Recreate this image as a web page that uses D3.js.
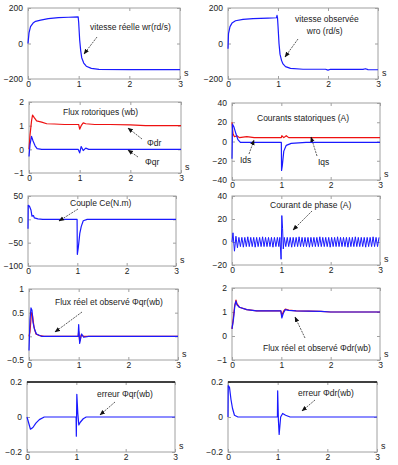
<!DOCTYPE html>
<html>
<head>
<meta charset="utf-8">
<script src="https://cdn.jsdelivr.net/npm/d3@7"></script>
<style>
body { margin: 0; background: #fff; }
text { font-family: Arial, "Liberation Sans", sans-serif; fill: #222; }
</style>
</head>
<body>
<script>
// ---- data (time in s) ----
var timeTicks = [0, 1, 2, 3];

// vitesse reelle / observee (rd/s)
var wr = [[0,0],[0.02,60],[0.05,95],[0.1,115],[0.15,125],[0.25,132],[0.4,140],[0.6,146],[0.8,148],[0.99,150],[1.0,120],[1.02,20],[1.04,-40],[1.06,-80],[1.1,-110],[1.15,-128],[1.25,-140],[1.4,-146],[2,-147],[3,-147]];
var wro = [[0,-30],[0.01,55],[0.04,95],[0.08,115],[0.15,128],[0.3,136],[0.5,140],[0.8,143],[0.97,145],[0.98,158],[0.99,145],[1.0,100],[1.02,0],[1.04,-60],[1.07,-95],[1.1,-115],[1.15,-130],[1.25,-140],[1.5,-145],[1.95,-145],[2.0,-150],[2.05,-145],[2.7,-146],[2.75,-142],[2.8,-147],[3,-148]];

// flux rotoriques (wb)
var phiDr = [[0,0],[0.02,0.6],[0.05,1.2],[0.07,1.45],[0.1,1.35],[0.15,1.2],[0.25,1.15],[0.35,1.08],[0.5,1.07],[0.7,1.05],[0.98,1.05],[1.0,0.85],[1.03,1.0],[1.07,1.12],[1.12,1.08],[1.3,1.05],[1.6,1.05],[2.0,1.03],[2.3,1.0],[3,1.0]];
var phiQr = [[0,-0.3],[0.02,0.2],[0.05,0.55],[0.08,0.35],[0.12,0.15],[0.16,0.03],[0.25,0],[0.97,0],[1.0,-0.15],[1.03,0.12],[1.07,-0.05],[1.12,0.05],[1.18,0],[3,0]];

// courants statoriques (A)
var iqs = [[0,20],[0.02,8],[0.05,5],[0.1,6],[0.15,4],[0.3,5],[0.45,4],[1.0,4],[1.01,6],[1.05,4],[1.1,6],[1.15,4],[3,4]];
var ids = [[0,-18],[0.01,18],[0.04,15],[0.08,8],[0.12,2],[0.17,-1],[1.0,-1],[1.005,-30],[1.02,-25],[1.05,-10],[1.1,-4],[1.2,-2],[1.5,-1],[3,-1]];

// couple (N.m)
var ce = [[0,-20],[0.005,30],[0.03,28],[0.06,20],[0.08,7],[0.11,8],[0.13,3],[0.2,1],[0.3,0],[0.995,0],[1.0,-75],[1.02,-60],[1.05,-30],[1.08,-15],[1.12,-3],[1.2,0],[3,0]];

// courant de phase (A)
var ia = [[0,0],[0.02,8],[0.05,-8],[0.08,5],[0.11,-5],[0.14,4],[0.17,-4],[0.2,4],[0.23,-4.5],[0.26,4],[0.29,-4],[0.32,4.5],[0.35,-4],[0.38,4],[0.41,-4],[0.44,4],[0.47,-4.5],[0.5,4],[0.53,-4],[0.56,4],[0.59,-4],[0.62,4.5],[0.65,-4],[0.68,4],[0.71,-4],[0.74,4],[0.77,-4],[0.8,4],[0.83,-4.5],[0.86,4],[0.89,-4],[0.92,4],[0.95,-4],[0.97,4],[0.995,-15],[1.01,23],[1.025,12],[1.04,-6],[1.06,4],[1.09,-4],[1.12,4],[1.15,-4],[1.18,4],[1.21,-4.5],[1.24,4],[1.27,-4],[1.3,4],[1.33,-4],[1.36,4.5],[1.39,-4],[1.42,4],[1.45,-4],[1.48,4],[1.51,-4],[1.54,4],[1.57,-4.5],[1.6,4],[1.63,-4],[1.66,4],[1.69,-4],[1.72,4],[1.75,-4],[1.78,4.5],[1.81,-4],[1.84,4],[1.87,-4],[1.9,4],[1.93,-4],[1.96,4],[1.99,-4.5],[2.02,4],[2.05,-4],[2.08,4],[2.11,-4],[2.14,4.5],[2.17,-4],[2.2,4],[2.23,-4],[2.26,4],[2.29,-4],[2.32,4],[2.35,-4.5],[2.38,4],[2.41,-4],[2.44,4],[2.47,-4],[2.5,4.5],[2.53,-4],[2.56,4],[2.59,-4],[2.62,4],[2.65,-4],[2.68,4],[2.71,-4.5],[2.74,4],[2.77,-4],[2.8,4],[2.83,-4],[2.86,4.5],[2.89,-4],[2.92,4],[2.95,-4],[2.98,4]];

// flux reel et observe (wb)
var qrReal = [[0,0],[0.02,0.1],[0.05,0.5],[0.07,0.45],[0.1,0.2],[0.14,0.05],[0.2,0.02],[0.3,0],[0.99,0],[1.0,0.1],[1.02,-0.1],[1.05,0.03],[1.1,0],[3,0]];
var qrObs = [[0,-0.3],[0.02,0.35],[0.04,0.6],[0.06,0.55],[0.08,0.3],[0.11,0.15],[0.15,0.05],[0.25,0],[0.99,0],[1.0,0.25],[1.02,-0.15],[1.06,0.05],[1.1,-0.02],[1.2,0],[3,0]];
var drReal = [[0,0.3],[0.02,0.6],[0.05,1.2],[0.08,1.5],[0.1,1.35],[0.15,1.2],[0.3,1.1],[0.5,1.05],[0.99,1.05],[1.01,0.85],[1.05,1.05],[1.08,1.12],[1.15,1.08],[1.3,1.05],[1.8,1.03],[2.0,1.0],[3,1.0]];
var drObs = [[0,0.3],[0.03,0.7],[0.06,1.3],[0.08,1.45],[0.1,1.3],[0.15,1.2],[0.3,1.1],[0.5,1.05],[0.99,1.05],[1.01,0.75],[1.04,0.95],[1.08,1.1],[1.15,1.07],[1.3,1.05],[1.8,1.03],[2.0,1.0],[3,1.0]];

// erreurs d'observation (wb)
var errQr = [[0,0],[0.03,-0.03],[0.07,-0.07],[0.12,-0.06],[0.18,-0.035],[0.25,-0.015],[0.35,0],[0.995,0],[1.0,-0.11],[1.01,0.13],[1.03,0.02],[1.05,-0.045],[1.08,-0.03],[1.14,-0.01],[1.2,0],[3,0]];
var errDr = [[0,0],[0.005,0.18],[0.03,0.17],[0.06,0.1],[0.09,0.05],[0.13,0.01],[0.2,0],[0.995,0],[1.0,0.15],[1.015,-0.02],[1.03,-0.1],[1.06,0],[1.1,0.02],[1.16,0.01],[1.25,0],[3,0]];

var RED = "#ee1111", BLUE = "#1a1aff";

// panel boxes are [left, top, right, bottom] in page pixels
var panels = [
  { box: [28, 8, 180, 79], yDom: [-200, 200], yTicks: [-200, 0, 200], series: [[wr, BLUE]],
    notes: [{ t: ["vitesse réelle wr(rd/s)"], x: 90, y: 30, a: [97, 37, 84, 54] }] },
  { box: [228, 8, 378, 79], yDom: [-200, 200], yTicks: [-200, 0, 200], series: [[wro, BLUE]],
    notes: [{ t: ["vitesse observée", "     wro (rd/s)"], x: 295, y: 22, a: [298, 39, 285, 57] }] },
  { box: [29, 102, 181, 173], yDom: [-1, 2], yTicks: [-1, 0, 1, 2], series: [[phiDr, RED], [phiQr, BLUE]],
    notes: [{ t: ["Flux rotoriques (wb)"], x: 63, y: 115 },
            { t: ["Φdr"], x: 147, y: 146, a: [142, 139, 128, 128] },
            { t: ["Φqr"], x: 145, y: 165, a: [138, 157, 128, 150] }] },
  { box: [232, 103, 380, 180], yDom: [-40, 40], yTicks: [-40, -20, 0, 20, 40], series: [[iqs, RED], [ids, BLUE]],
    notes: [{ t: ["Courants statoriques (A)"], x: 257, y: 121 },
            { t: ["Ids"], x: 240, y: 163, a: [249, 154, 254, 140] },
            { t: ["Iqs"], x: 318, y: 165, a: [317, 156, 311, 137] }] },
  { box: [28, 196, 176, 266], yDom: [-100, 50], yTicks: [-100, -50, 0, 50], series: [[ce, BLUE]],
    notes: [{ t: ["Couple Ce(N.m)"], x: 70, y: 206, a: [78, 209, 59, 221] }] },
  { box: [232, 196, 380, 265], yDom: [-20, 40], yTicks: [-20, 0, 20, 40], series: [[ia, BLUE]],
    notes: [{ t: ["Courant de phase (A)"], x: 270, y: 208, a: [312, 211, 293, 230] }] },
  { box: [29, 289, 178, 360], yDom: [-0.5, 1], yTicks: [-0.5, 0, 0.5, 1], series: [[qrReal, RED], [qrObs, BLUE]],
    notes: [{ t: ["Flux réel et observé Φqr(wb)"], x: 55, y: 305, a: [82, 312, 55, 332] }] },
  { box: [232, 288, 380, 360], yDom: [-1, 2], yTicks: [-1, 0, 1, 2], series: [[drReal, RED], [drObs, BLUE]],
    notes: [{ t: ["Flux réel et observé Φdr(wb)"], x: 263, y: 351, a: [305, 338, 295, 317] }] },
  { box: [27, 382, 175, 452], yDom: [-0.2, 0.2], yTicks: [-0.2, 0, 0.2], series: [[errQr, BLUE]], darkTop: true,
    notes: [{ t: ["erreur Φqr(wb)"], x: 97, y: 397, a: [115, 402, 100, 415] }] },
  { box: [228, 382, 377, 452], yDom: [-0.2, 0.2], yTicks: [-0.2, 0, 0.2], series: [[errDr, BLUE]], darkTop: true,
    notes: [{ t: ["erreur Φdr(wb)"], x: 298, y: 396, a: [315, 400, 302, 411] }] }
];

var svg = d3.select("body").append("svg")
    .attr("width", 398)
    .attr("height", 465);

svg.append("defs").append("marker")
    .attr("id", "head")
    .attr("viewBox", "0 0 10 10")
    .attr("refX", 9).attr("refY", 5)
    .attr("markerWidth", 7).attr("markerHeight", 7)
    .attr("orient", "auto")
    .append("path")
    .attr("d", "M0,1L10,5L0,9z")
    .attr("fill", "#111");

var fmt = d3.format("");

panels.forEach(function(p) {
    var L = p.box[0], T = p.box[1], R = p.box[2], B = p.box[3];
    var x = d3.scaleLinear().domain([0, 3]).range([L, R]);
    var y = d3.scaleLinear().domain(p.yDom).range([B, T]);
    var g = svg.append("g");

    // frame
    g.append("rect")
        .attr("x", L).attr("y", T)
        .attr("width", R - L).attr("height", B - T)
        .attr("fill", "none").attr("stroke", "#a0a0a0").attr("stroke-width", 1);

    // inside ticks (MATLAB style) + labels
    var yAx = d3.axisLeft(y).tickValues(p.yTicks).tickSize(-3).tickPadding(5).tickFormat(fmt);
    var gy = g.append("g").attr("transform", "translate(" + L + ",0)").call(yAx);
    var yAxR = d3.axisRight(y).tickValues(p.yTicks).tickSize(-3).tickFormat("");
    var gyr = g.append("g").attr("transform", "translate(" + R + ",0)").call(yAxR);
    var xAx = d3.axisBottom(x).tickValues(timeTicks).tickSize(-3).tickPadding(2).tickFormat(fmt);
    var gx = g.append("g").attr("transform", "translate(0," + B + ")").call(xAx);
    var xAxT = d3.axisTop(x).tickValues(timeTicks).tickSize(-3).tickFormat("");
    var gxt = g.append("g").attr("transform", "translate(0," + T + ")").call(xAxT);
    [gy, gyr, gx, gxt].forEach(function(a) {
        a.select(".domain").remove();
        a.selectAll(".tick line").attr("stroke", "#a0a0a0");
        a.selectAll("text").attr("font-size", 8.5).attr("fill", "#222")
            .style("font-family", "Arial, 'Liberation Sans', sans-serif");
    });

    if (p.darkTop) {
        g.append("line")
            .attr("x1", L).attr("x2", R).attr("y1", T).attr("y2", T)
            .attr("stroke", "#111").attr("stroke-width", 1.5);
    }

    // "s" unit label
    g.append("text")
        .attr("x", R + 4).attr("y", B - 3)
        .attr("font-size", 9)
        .text("s");

    // curves
    var line = d3.line()
        .x(function(d) { return x(d[0]); })
        .y(function(d) { return y(d[1]); });
    p.series.forEach(function(s) {
        g.append("path")
            .datum(s[0])
            .attr("d", line)
            .attr("fill", "none")
            .attr("stroke", s[1])
            .attr("stroke-width", s[0] === ia ? 1 : 1.2)
            .attr("stroke-linejoin", "round");
    });

    // annotations
    p.notes.forEach(function(n) {
        var t = g.append("text")
            .attr("x", n.x).attr("y", n.y)
            .attr("font-size", 8.5)
            .attr("xml:space", "preserve");
        n.t.forEach(function(s, i) {
            t.append("tspan").attr("x", n.x).attr("dy", i ? 12 : 0).text(s);
        });
        if (n.a) {
            g.append("line")
                .attr("x1", n.a[0]).attr("y1", n.a[1])
                .attr("x2", n.a[2]).attr("y2", n.a[3])
                .attr("stroke", "#333").attr("stroke-width", 0.8)
                .attr("stroke-dasharray", "2,1")
                .attr("marker-end", "url(#head)");
        }
    });
});
</script>
</body>
</html>
